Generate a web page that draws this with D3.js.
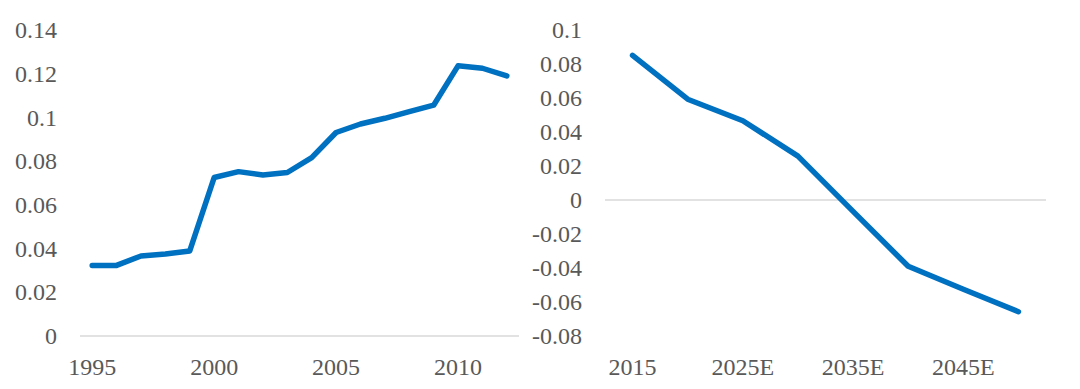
<!DOCTYPE html>
<html>
<head>
<meta charset="utf-8">
<script src="https://cdn.jsdelivr.net/npm/d3@7"></script>
<style>
  html, body { margin: 0; padding: 0; background: #fff; }
  svg { display: block; }
  svg text { font-family: 'Liberation Serif', 'Tinos', serif !important; fill: #595959; }
</style>
</head>
<body>
<svg id="chart" width="1080" height="389"></svg>
<script>
// ---- Data ----
const leftCategories = ["1995","1996","1997","1998","1999","2000","2001","2002","2003","2004","2005","2006","2007","2008","2009","2010","2011","2012"];
const leftValues = [0.0323,0.0323,0.0366,0.0375,0.0389,0.0725,0.0752,0.0737,0.0748,0.0816,0.0931,0.0970,0.0996,0.1027,0.1056,0.1236,0.1225,0.1190];
const leftXTickLabels = ["1995","2000","2005","2010"];
const leftYTicks = [0,0.02,0.04,0.06,0.08,0.1,0.12,0.14];

const rightCategories = ["2015","2020E","2025E","2030E","2035E","2040E","2045E","2050E"];
const rightValues = [0.0851,0.0593,0.0466,0.0258,-0.0067,-0.0390,-0.0525,-0.0657];
const rightXTickLabels = ["2015","2025E","2035E","2045E"];
const rightYTicks = [-0.08,-0.06,-0.04,-0.02,0,0.02,0.04,0.06,0.08,0.1];

const svg = d3.select("#chart");
const LINE_COLOR = "#0070C0";
const FONT_SIZE = "24px";

function fmt(v) {
  if (Math.abs(v) < 1e-9) return "0";
  return String(+v.toFixed(2));
}

function panel(opts) {
  const g = svg.append("g");
  const x = d3.scaleBand().domain(opts.categories).range([opts.x0, opts.x1]).paddingInner(0).paddingOuter(0);
  const cx = c => x(c) + x.bandwidth() / 2;
  const y = d3.scaleLinear().domain(opts.yDomain).range([opts.yBottom, opts.yTop]);

  g.append("line")
    .attr("x1", opts.x0).attr("x2", opts.x1)
    .attr("y1", y(0)).attr("y2", y(0))
    .attr("stroke", "#d9d9d9").attr("stroke-width", 1.5);

  const yAxis = d3.axisLeft(y).tickValues(opts.yTicks).tickFormat(fmt).tickSize(0).tickPadding(0);
  const ya = g.append("g").attr("transform", `translate(${opts.yLabelX},0)`).call(yAxis)
    .attr("font-family", "Liberation Serif").attr("font-size", FONT_SIZE);
  ya.select(".domain").remove();
  ya.selectAll("text").attr("font-family", "Liberation Serif").style("font-size", FONT_SIZE);

  const xAxis = d3.axisBottom(x).tickValues(opts.xTicks).tickSize(0).tickPadding(0);
  const xa = g.append("g").attr("transform", `translate(0,${opts.xLabelY})`).call(xAxis)
    .attr("font-family", "Liberation Serif").attr("font-size", FONT_SIZE);
  xa.select(".domain").remove();
  xa.selectAll("text").attr("font-family", "Liberation Serif").style("font-size", FONT_SIZE)
    .attr("dy", "0.35em").attr("y", 0);

  const line = d3.line().x((d, i) => cx(opts.categories[i])).y(d => y(d));
  g.append("path").datum(opts.values)
    .attr("d", line)
    .attr("fill", "none")
    .attr("stroke", LINE_COLOR)
    .attr("stroke-width", 5.5)
    .attr("stroke-linejoin", "round")
    .attr("stroke-linecap", "round");
}

panel({
  categories: leftCategories, values: leftValues,
  xTicks: leftXTickLabels, yTicks: leftYTicks,
  yDomain: [0, 0.14],
  x0: 80, x1: 519, yTop: 30, yBottom: 336,
  yLabelX: 57, xLabelY: 367
});

panel({
  categories: rightCategories, values: rightValues,
  xTicks: rightXTickLabels, yTicks: rightYTicks,
  yDomain: [-0.08, 0.1],
  x0: 605, x1: 1046, yTop: 30, yBottom: 336,
  yLabelX: 582, xLabelY: 367
});
</script>
</body>
</html>
